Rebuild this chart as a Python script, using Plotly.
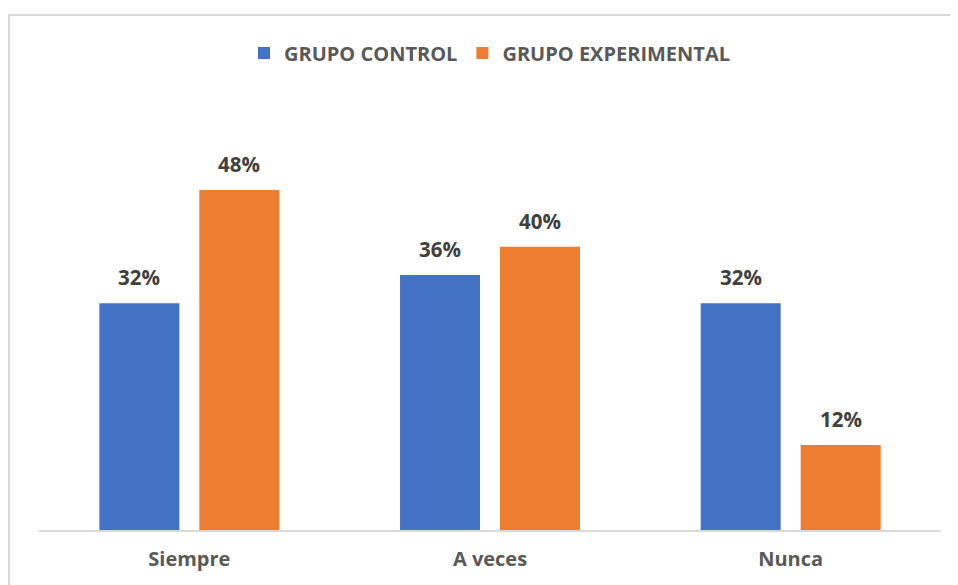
import plotly.graph_objects as go

categories = ["Siempre", "A veces", "Nunca"]
control = [32, 36, 32]
experimental = [48, 40, 12]
series_names = ["GRUPO CONTROL", "GRUPO EXPERIMENTAL"]

BLUE = "#4472C4"
ORANGE = "#ED7D31"
FONT = "Open Sans"

# figure pixel geometry (page body adds 8px offset)
W, H = 950, 577
L, R, T, B = 31, 933, 97, 522
pw, ph = R - L, B - T

def px2x(px):
    return (px - L) / pw

def py2y(py):
    return (B - py) / ph

fig = go.Figure()
annotations = []
for i, (name, vals, col) in enumerate([(series_names[0], control, BLUE), (series_names[1], experimental, ORANGE)]):
    fig.add_trace(go.Bar(
        name=name, x=categories, y=vals, marker=dict(color=col, line=dict(width=0)),
        textposition="none",
    ))
    for c, v in zip(categories, vals):
        annotations.append(dict(
            x=c, y=v, xref="x", yref="y", text=f"{v}%", showarrow=False,
            xshift=-50 if i == 0 else 50, yshift=10, yanchor="bottom",
            font=dict(family=FONT, size=20.5, color="#404040", weight="bold"),
        ))

fig.update_layout(
    width=W, height=H,
    margin=dict(l=L, r=W - R, t=T, b=H - B, pad=0),
    paper_bgcolor="white", plot_bgcolor="white",
    barmode="group", bargap=0.335, bargroupgap=0.2,
    showlegend=True,
    legend=dict(orientation="h", x=0.5, xanchor="center", y=py2y(45), yanchor="middle",
                font=dict(family=FONT, size=20, color="#595959", weight="bold"),
                itemwidth=30, traceorder="normal", bgcolor="rgba(0,0,0,0)"),
    xaxis=dict(showgrid=False, showline=True, linecolor="#D9D9D9", linewidth=2,
               ticks="", tickfont=dict(family=FONT, size=20, color="#595959", weight="bold"),
               ticklabelstandoff=10),
    yaxis=dict(range=[0, 60], visible=False, showgrid=False, zeroline=False),
    annotations=annotations,
    shapes=[dict(type="rect", xref="paper", yref="paper",
                 x0=px2x(1), x1=px2x(980), y0=py2y(600), y1=py2y(7),
                 line=dict(color="#D9D9D9", width=2), layer="below")],
)

fig.write_html("out.html")
